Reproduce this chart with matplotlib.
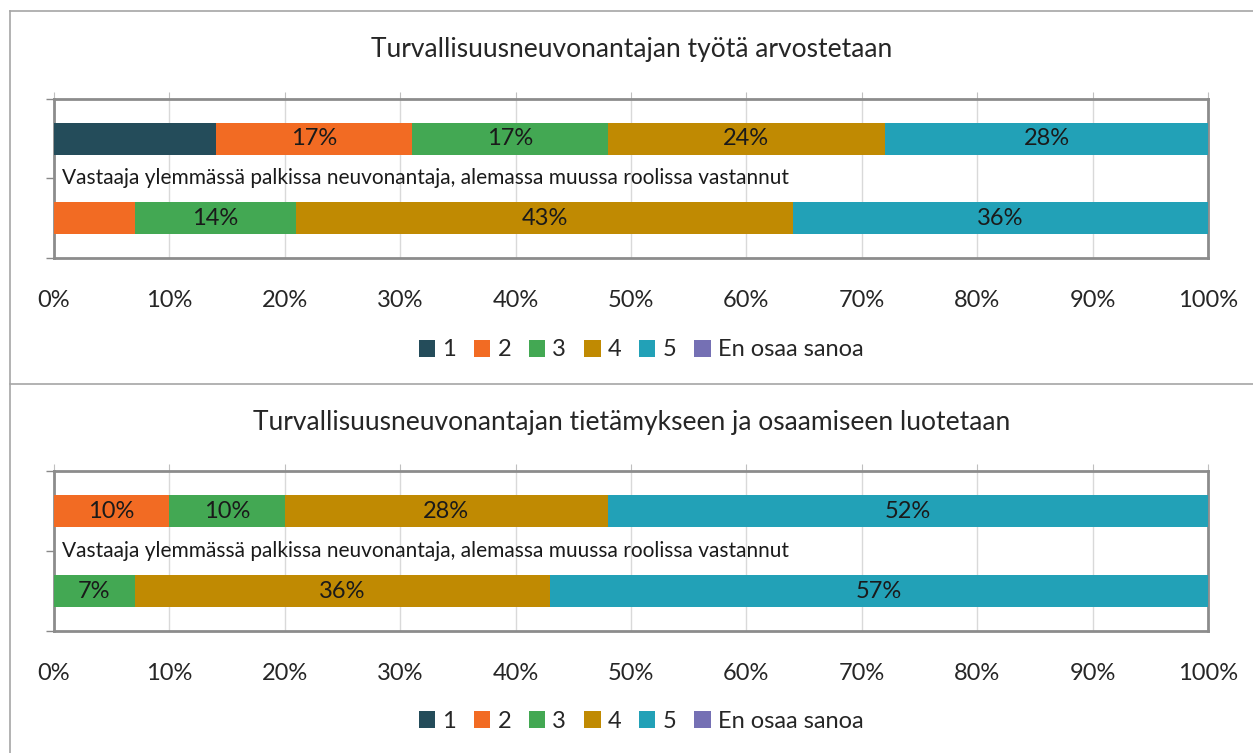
import matplotlib
matplotlib.use("Agg")
import matplotlib.pyplot as plt
import numpy as np
from matplotlib.patches import Patch

plt.rcParams['font.family'] = ['Lato', 'DejaVu Sans']

series = ['1', '2', '3', '4', '5', 'En osaa sanoa']
colors = ['#244c5a', '#f26b23', '#43a853', '#c08a02', '#22a1b7', '#7570b4']

titles = ['Turvallisuusneuvonantajan työtä arvostetaan',
          'Turvallisuusneuvonantajan tietämykseen ja osaamiseen luotetaan']
cat_note = 'Vastaaja ylemmässä palkissa neuvonantaja, alemassa muussa roolissa vastannut'

# percent per series (1..5, EOS) for upper bar and lower bar
chart1_upper = [14, 17, 17, 24, 28, 0]
chart1_lower = [0, 7, 14, 43, 36, 0]
chart2_upper = [0, 10, 10, 28, 52, 0]
chart2_lower = [0, 0, 7, 36, 57, 0]
# which segments carry a data label
chart1_upper_lab = [False, True, True, True, True, False]
chart1_lower_lab = [False, False, True, True, True, False]
chart2_upper_lab = [False, True, True, True, True, False]
chart2_lower_lab = [False, False, True, True, True, False]

xticks = np.arange(0, 101, 10)

W, H = 1253, 753
fig = plt.figure(figsize=(W / 100, H / 100), dpi=100)

# panel borders
fig.add_artist(plt.Line2D([10 / W, 10 / W], [0, 1 - 11 / H], color='#a6a6a6', lw=1.2))
fig.add_artist(plt.Line2D([10 / W, 1], [1 - 11 / H, 1 - 11 / H], color='#a6a6a6', lw=1.2))
fig.add_artist(plt.Line2D([10 / W, 1], [1 - 384 / H, 1 - 384 / H], color='#a6a6a6', lw=1.2))

panels = [
    (titles[0], [chart1_upper, chart1_lower], [chart1_upper_lab, chart1_lower_lab], 99, 258, 50, 350),
    (titles[1], [chart2_upper, chart2_lower], [chart2_upper_lab, chart2_lower_lab], 471, 631, 423, 721),
]

for title, bars, labs, top, bot, ty, ly in panels:
    ax = fig.add_axes([54 / W, 1 - bot / H, 1154 / W, (bot - top) / H])
    ypos = [0, 1]
    for j, vals in enumerate(bars):
        left = 0
        for i, v in enumerate(vals):
            if v > 0:
                ax.barh(ypos[j], v, left=left, height=0.4, color=colors[i], zorder=3)
                if labs[j][i]:
                    ax.text(left + v / 2, ypos[j], f'{v}%', ha='center', va='center',
                            fontsize=17, color='#1a1a1a', zorder=4)
            left += v
    ax.set_xlim(0, 100)
    ax.set_ylim(1.5, -0.5)
    ax.set_xticks(xticks)
    ax.set_xticklabels([f'{t}%' for t in xticks], fontsize=17, color='#262626')
    ax.set_yticks([-0.5, 0.5, 1.5])
    ax.set_yticklabels([])
    ax.tick_params(axis='x', bottom=False, top=True, labelbottom=True, labeltop=False,
                   direction='out', length=5, color='#bfbfbf', pad=18)
    ax.tick_params(axis='y', direction='out', length=6, color='#898989', width=1)
    ax.grid(axis='x', color='#d9d9d9', lw=1, zorder=0)
    for s in ax.spines.values():
        s.set_color('#8c8c8c')
        s.set_linewidth(2)
    ax.text(8 / 1154, 0.5, cat_note, transform=ax.transAxes, ha='left', va='center',
            fontsize=15, color='#1a1a1a')
    fig.text(0.5 + 5 / W, 1 - ty / H, title, ha='center', va='center', fontsize=19, color='#262626')
    handles = [Patch(facecolor=c) for c in colors]
    fig.legend(handles, series, loc='center', bbox_to_anchor=(641 / W, 1 - ly / H), ncol=6,
               frameon=False, fontsize=17, handlelength=0.7, handleheight=0.7,
               handletextpad=0.3, columnspacing=0.75, labelcolor='#262626')

fig.savefig('out.png', dpi=100)
